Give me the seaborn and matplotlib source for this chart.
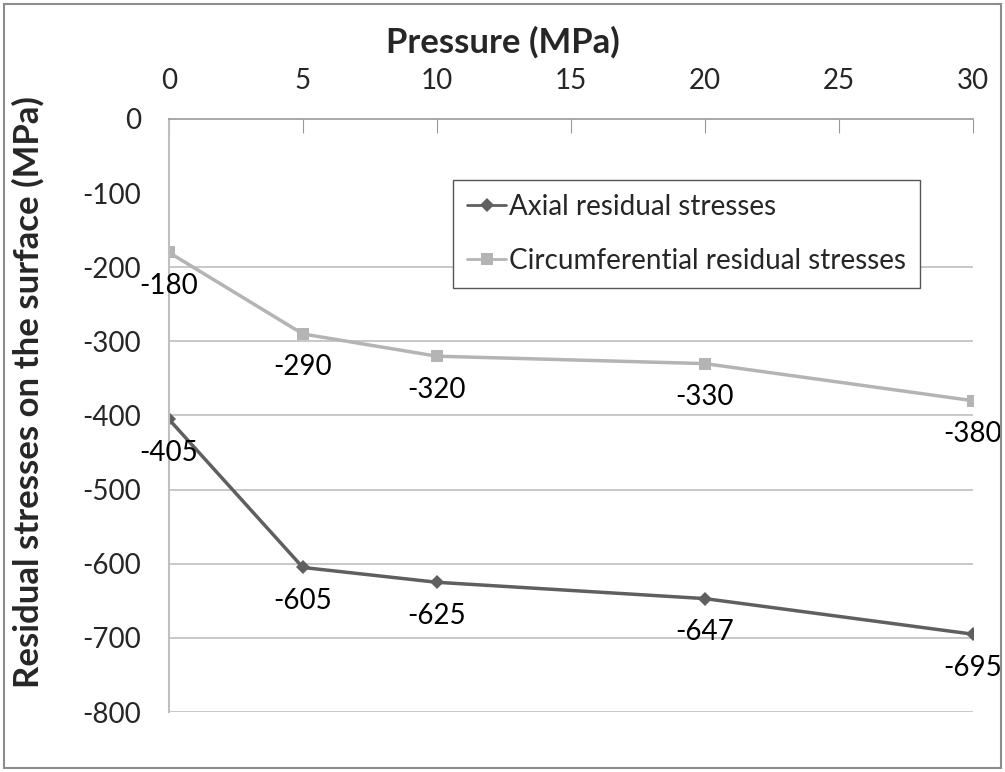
import matplotlib
matplotlib.use('Agg')
import matplotlib.pyplot as plt
import seaborn as sns
import pandas as pd
from matplotlib.patches import Rectangle

# data
pressure = [0, 5, 10, 20, 30]
axial = [-405, -605, -625, -647, -695]
circumferential = [-180, -290, -320, -330, -380]
series_names = ['Axial residual stresses', 'Circumferential residual stresses']
x_ticks = [0, 5, 10, 15, 20, 25, 30]
y_ticks = [0, -100, -200, -300, -400, -500, -600, -700, -800]

sns.set_style('white')
plt.rcParams['font.family'] = ['Lato', 'DejaVu Sans']
plt.rcParams['axes.unicode_minus'] = False

df = pd.DataFrame({
    'Pressure': pressure * 2,
    'Stress': axial + circumferential,
    'Series': [series_names[0]] * len(pressure) + [series_names[1]] * len(pressure),
})

fig = plt.figure(figsize=(10.05, 7.72), dpi=100)
ax = fig.add_axes([0.168, 0.0777, 0.800, 0.7682])

sns.lineplot(data=df, x='Pressure', y='Stress', hue='Series', style='Series',
             palette={series_names[0]: '#5f5f5f', series_names[1]: '#b4b4b4'},
             markers={series_names[0]: 'D', series_names[1]: 's'},
             dashes=False, linewidth=2.5, markersize=9, markeredgewidth=0,
             ax=ax)
# smaller diamond
for line in ax.get_lines():
    if line.get_marker() == 'D':
        line.set_markersize(7)

# data labels under each point
for xs, ys in [(pressure, axial), (pressure, circumferential)]:
    for xv, yv in zip(xs, ys):
        ax.annotate(str(yv), (xv, yv), xytext=(0, -24), textcoords='offset points',
                    ha='center', va='center', fontsize=20, color='black')

ax.set_xlim(0, 30)
ax.set_ylim(-800, 0)
ax.set_xticks(x_ticks)
ax.set_yticks(y_ticks)
ax.xaxis.tick_top()
ax.xaxis.set_label_position('top')
ax.tick_params(axis='x', direction='in', length=10, color='#999999', labelsize=20, pad=18)
ax.tick_params(axis='y', length=0, labelsize=20, pad=20)
ax.set_xlabel('Pressure (MPa)', fontsize=25, fontweight='bold', va='center')
ax.set_ylabel('Residual stresses on the surface (MPa)', fontsize=25, fontweight='bold', va='center')
ax.xaxis.set_label_coords(0.415, 1.13)
ax.yaxis.set_label_coords(-0.175, 0.54)

ax.grid(axis='y', color='#bfbfbf', linewidth=1.2)
ax.set_axisbelow(True)
gl = ax.yaxis.get_gridlines()
gl[0].set_visible(False)
gl[1].set_visible(False)

for side in ['right', 'bottom']:
    ax.spines[side].set_visible(False)
ax.spines['top'].set_color('#999999')
ax.spines['top'].set_linewidth(1.2)
ax.spines['left'].set_color('#bfbfbf')
ax.spines['left'].set_linewidth(1.5)

leg = ax.legend(loc='upper left', bbox_to_anchor=(0.354, 0.897), fontsize=20,
                frameon=True, fancybox=False, framealpha=1, edgecolor='#555555',
                handlelength=1.4, handletextpad=0.1, borderpad=0.5, labelspacing=1.0,
                borderaxespad=0)
leg.get_frame().set_linewidth(1.0)
for h in leg.get_lines():
    h.set_linewidth(2)

fig.patches.append(Rectangle((0.004, 0.005), 0.992, 0.99, transform=fig.transFigure,
                             fill=False, edgecolor='#8c8c8c', linewidth=1.5))

plt.savefig('out.png', dpi=100)
